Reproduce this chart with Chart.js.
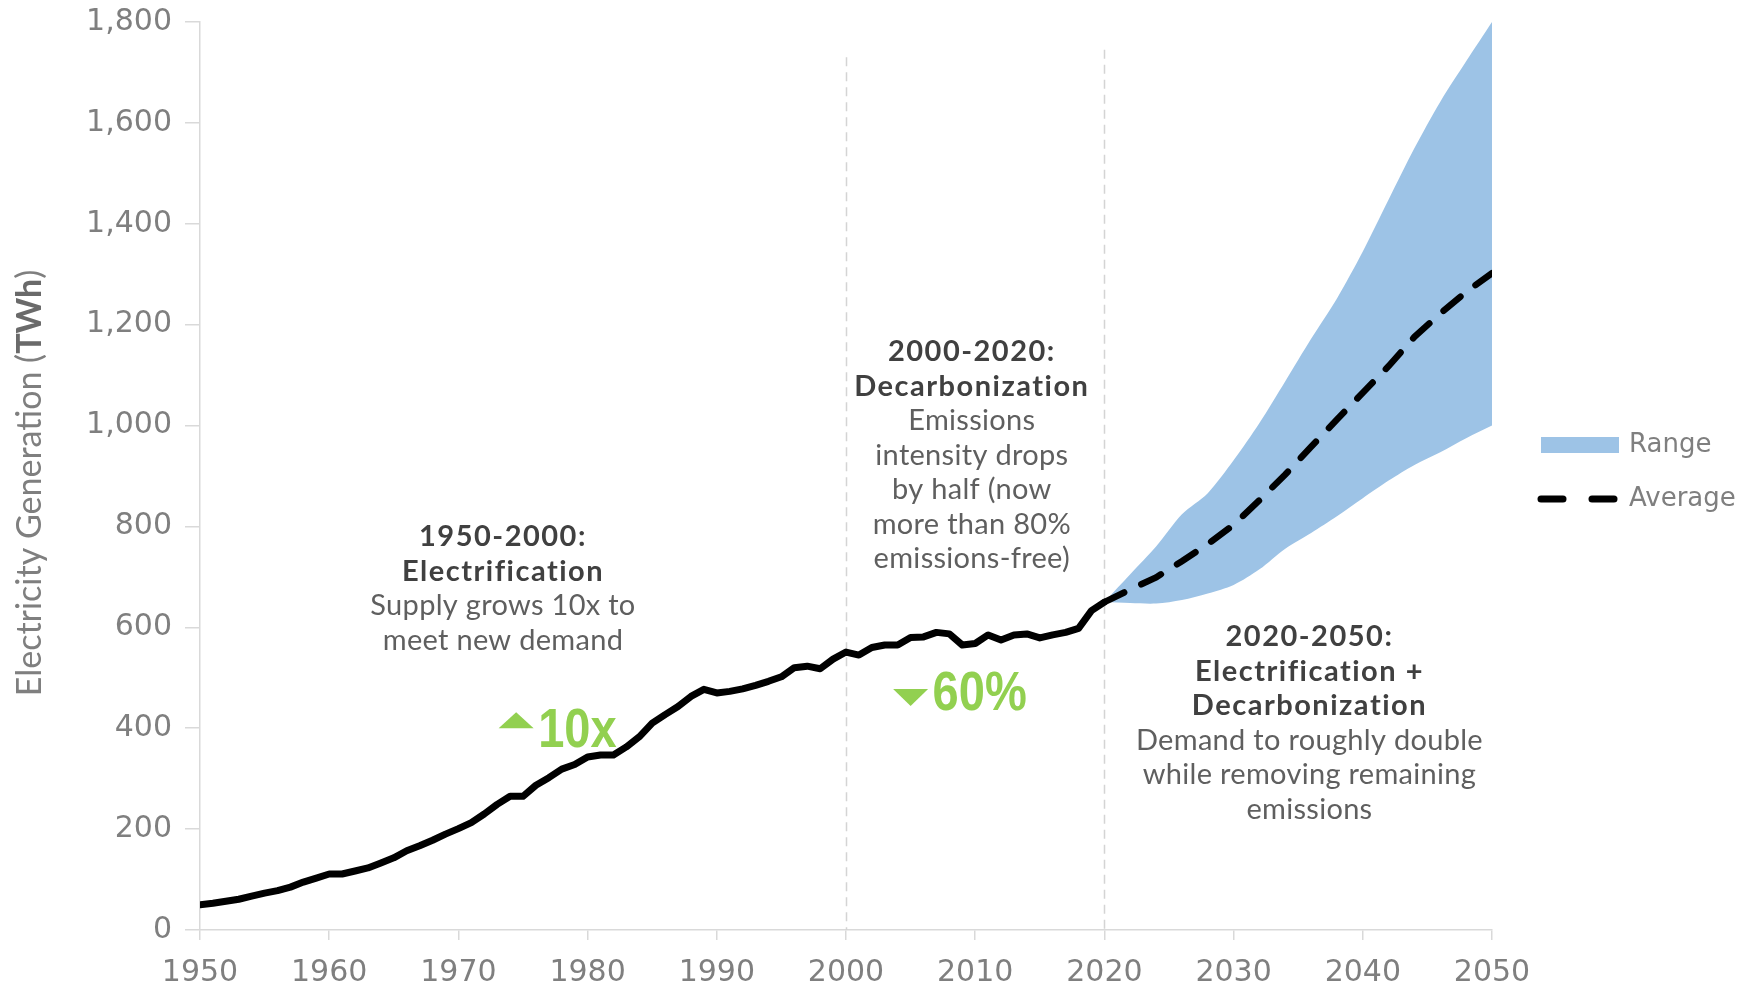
<!DOCTYPE html>
<html><head><meta charset="utf-8">
<script src="https://cdn.jsdelivr.net/npm/chart.js@4.4.1/dist/chart.umd.min.js"></script>
<style>html,body{margin:0;padding:0;background:#fff;} #wrap{width:1746px;height:988px;}</style>
</head><body><div id="wrap"><canvas id="c" width="1746" height="988"></canvas></div>
<script>
// ---- DATA ----
const histStartYear = 1950;
const histValues = [
  50, 53, 57, 61, 67, 73, 78, 85, 95, 103,
  111, 111, 117, 123, 133, 143, 157, 167, 178, 190,
  201, 213, 230, 249, 265, 265, 287, 302, 319, 328,
  343, 347, 347, 363, 383, 410, 427, 443, 463, 477,
  470, 473, 478, 485, 493, 502, 520, 523, 518, 537,
  551, 545, 560, 565, 565, 580, 581, 590, 587, 565,
  568, 585, 575, 585, 587, 579, 585, 590, 598, 633,
  650
];
const histYears = histValues.map((_, i) => histStartYear + i);
const projYears     = [2020, 2022, 2024, 2026, 2028, 2030, 2032, 2034, 2036, 2038, 2040, 2042, 2044, 2046, 2048, 2050];
const rangeLow      = [650, 648, 647, 654, 667, 684, 715, 756, 787, 820, 856, 891, 922, 947, 975, 1000];
const rangeHigh     = [650, 705, 760, 824, 866, 931, 1005, 1088, 1172, 1252, 1345, 1448, 1550, 1642, 1722, 1800];
const averageValues = [650, 675, 699, 731, 765, 803, 852, 903, 958, 1012, 1065, 1118, 1176, 1222, 1265, 1302];
const xTickValues = [1950, 1960, 1970, 1980, 1990, 2000, 2010, 2020, 2030, 2040, 2050];
const yTickValues = [0, 200, 400, 600, 800, 1000, 1200, 1400, 1600, 1800];
const dividerYears = [2000, 2020];
const dividerTops = [1730, 1745];

const legendLabels = ['Range', 'Average'];
const yTitleParts = [['Electricity Generation (', false], ['TWh', true], [')', false]];

const notes = [
  {x: 1973.45, y: 779, lines: [['1950-2000:', true], ['Electrification', true], ['Supply grows 10x to', false], ['meet new demand', false]]},
  {x: 2009.74, y: 1146, lines: [['2000-2020:', true], ['Decarbonization', true], ['Emissions', false], ['intensity drops', false], ['by half (now', false], ['more than 80%', false], ['emissions-free)', false]]},
  {x: 2035.87, y: 581, lines: [['2020-2050:', true], ['Electrification +', true], ['Decarbonization', true], ['Demand to roughly double', false], ['while removing remaining', false], ['emissions', false]]}
];
const markers = [
  {x: 1974.47, y: 398, up: true, label: '10x'},
  {x: 2005.0, y: 470, up: false, label: '60%'}
];

// ---- STYLE ----
const TICK_FONT = '"DejaVu Sans", sans-serif';
const NOTE_FONT = 'Lato, "Open Sans", sans-serif';
const GRAY = '#7f7f7f';
const BLUE = '#9dc3e6';
const GREEN = '#92d050';

const overlay = {
  id: 'overlay',
  beforeDatasetsDraw(chart) {
    const {ctx, scales: {x, y}} = chart;
    ctx.save();
    ctx.strokeStyle = '#d4d4d4';
    ctx.lineWidth = 1.5;
    ctx.setLineDash([9, 6]);
    dividerYears.forEach((yr, i) => {
      const px = Math.round(x.getPixelForValue(yr)) + 0.5;
      ctx.beginPath();
      ctx.moveTo(px, y.getPixelForValue(dividerTops[i]));
      ctx.lineTo(px, y.getPixelForValue(0));
      ctx.stroke();
    });
    ctx.restore();
  },
  afterDraw(chart) {
    const {ctx, scales: {x, y}} = chart;
    ctx.save();
    // notes
    ctx.textAlign = 'center';
    ctx.textBaseline = 'middle';
    notes.forEach(n => {
      const cx = x.getPixelForValue(n.x);
      let cy = y.getPixelForValue(n.y);
      n.lines.forEach(([t, b]) => {
        ctx.font = (b ? 'bold 29px ' : '29px ') + NOTE_FONT;
        ctx.letterSpacing = b ? '1.5px' : '0.3px';
        ctx.fillStyle = b ? '#404040' : '#5f5f5f';
        ctx.fillText(t, cx, cy);
        cy += 34.5;
      });
    });
    ctx.letterSpacing = '0px';
    // markers
    markers.forEach(m => {
      const cx = x.getPixelForValue(m.x);
      const cy = y.getPixelForValue(m.y);
      ctx.fillStyle = GREEN;
      ctx.beginPath();
      if (m.up) {
        ctx.moveTo(cx - 17.5, cy - 1); ctx.lineTo(cx + 17.5, cy - 1); ctx.lineTo(cx, cy - 17);
      } else {
        ctx.moveTo(cx - 17.5, cy - 4); ctx.lineTo(cx + 17.5, cy - 4); ctx.lineTo(cx, cy + 13);
      }
      ctx.closePath(); ctx.fill();
      ctx.save();
      ctx.translate(cx + 22, cy);
      ctx.scale(0.84, 1);
      ctx.font = 'bold 56px "Liberation Sans", Arial, sans-serif';
      ctx.textAlign = 'left';
      ctx.textBaseline = 'middle';
      ctx.fillText(m.label, 0, 2);
      ctx.restore();
    });
    // legend
    ctx.fillStyle = BLUE;
    ctx.fillRect(1541, 437, 78, 16);
    ctx.strokeStyle = '#000';
    ctx.lineWidth = 7;
    ctx.lineCap = 'round';
    ctx.setLineDash([]);
    ctx.beginPath(); ctx.moveTo(1541, 499); ctx.lineTo(1563, 499); ctx.stroke();
    ctx.beginPath(); ctx.moveTo(1592, 499); ctx.lineTo(1614, 499); ctx.stroke();
    ctx.fillStyle = GRAY;
    ctx.font = '26px ' + TICK_FONT;
    ctx.textAlign = 'left';
    ctx.textBaseline = 'middle';
    ctx.fillText(legendLabels[0], 1629, 445);
    ctx.fillText(legendLabels[1], 1629, 499);
    // y title
    ctx.save();
    ctx.translate(30, 483);
    ctx.rotate(-Math.PI / 2);
    ctx.textBaseline = 'middle';
    const fonts = yTitleParts.map(([t, b]) => (b ? 'bold 34px ' : '34px ') + NOTE_FONT);
    let total = 0;
    const widths = yTitleParts.map(([t], i) => { ctx.font = fonts[i]; const w = ctx.measureText(t).width; total += w; return w; });
    let sx = -total / 2;
    ctx.textAlign = 'left';
    yTitleParts.forEach(([t, b], i) => {
      ctx.font = fonts[i];
      ctx.fillStyle = b ? '#6a6a6a' : GRAY;
      ctx.fillText(t, sx, 0);
      sx += widths[i];
    });
    ctx.restore();
    ctx.restore();
  }
};

const pts = (xs, ys) => xs.map((v, i) => ({x: v, y: ys[i]}));

new Chart(document.getElementById('c'), {
  type: 'line',
  data: {
    datasets: [
      {label: 'Average', data: pts(projYears, averageValues), borderColor: '#000', borderWidth: 6.5,
       borderDash: [22, 19], borderCapStyle: 'round', pointRadius: 0, fill: false, order: 0},
      {label: 'History', data: pts(histYears, histValues), borderColor: '#000', borderWidth: 7,
       borderJoinStyle: 'round', borderCapStyle: 'round', pointRadius: 0, fill: false, order: 1},
      {label: 'RangeLow', data: pts(projYears, rangeLow), borderWidth: 0, borderColor: 'rgba(0,0,0,0)',
       pointRadius: 0, fill: false, order: 3, tension: 0.3},
      {label: 'Range', data: pts(projYears, rangeHigh), borderWidth: 0, borderColor: 'rgba(0,0,0,0)',
       backgroundColor: BLUE, pointRadius: 0, fill: '-1', order: 2, tension: 0.3}
    ]
  },
  options: {
    responsive: false,
    animation: false,
    layout: {padding: {left: 0, right: 254, top: 22, bottom: 0}},
    plugins: {legend: {display: false}, tooltip: {enabled: false}},
    scales: {
      x: {
        type: 'linear', min: 1950, max: 2050,
        afterBuildTicks: s => { s.ticks = xTickValues.map(v => ({value: v})); },
        afterFit: s => { s.height = 58; s.paddingLeft = 0; s.paddingRight = 0; },
        ticks: {callback: v => String(v), color: GRAY, font: {family: TICK_FONT, size: 30}, padding: 15, maxRotation: 0, autoSkip: false},
        grid: {display: true, drawOnChartArea: false, drawTicks: true, tickLength: 10, color: '#d9d9d9', lineWidth: 1.5},
        border: {display: true, color: '#d9d9d9', width: 1.5}
      },
      y: {
        min: 0, max: 1800,
        afterBuildTicks: s => { s.ticks = yTickValues.map(v => ({value: v})); },
        afterFit: s => { s.width = 200; s.paddingTop = 0; s.paddingBottom = 0; },
        ticks: {callback: v => v.toLocaleString('en-US'), color: GRAY, font: {family: TICK_FONT, size: 30}, padding: 13},
        grid: {display: true, drawOnChartArea: false, drawTicks: true, tickLength: 15, color: '#d9d9d9', lineWidth: 1.5},
        border: {display: true, color: '#d9d9d9', width: 1.5}
      }
    }
  },
  plugins: [overlay]
});
</script>
</body></html>
